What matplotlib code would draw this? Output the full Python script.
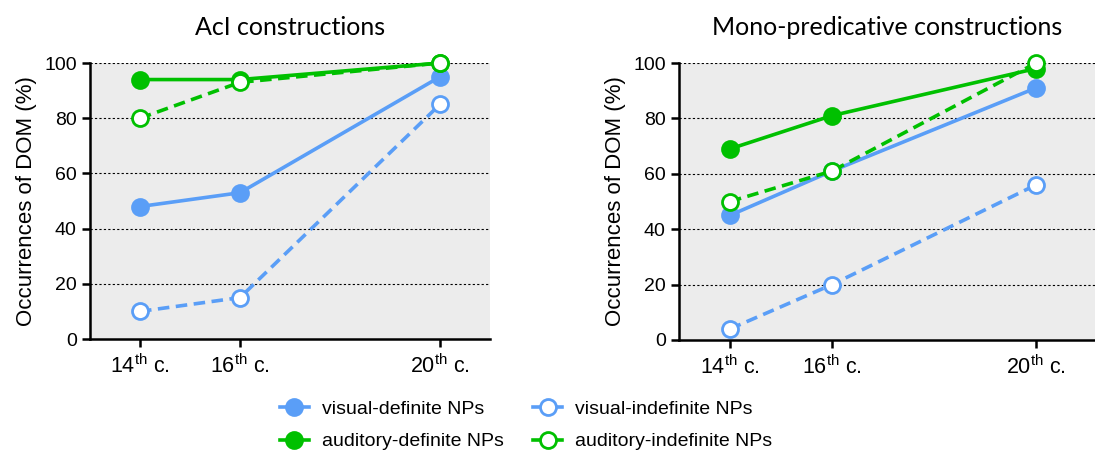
import matplotlib
matplotlib.use("Agg")
import matplotlib.pyplot as plt
from matplotlib.lines import Line2D

plt.rcParams['font.family'] = ['Liberation Sans', 'DejaVu Sans']
plt.rcParams['mathtext.fontset'] = 'custom'
plt.rcParams['mathtext.rm'] = 'Liberation Sans'
plt.rcParams['mathtext.it'] = 'Liberation Sans'

centuries = [14, 16, 20]
tick_labels = [r"14$^{\mathrm{th}}$ c.", r"16$^{\mathrm{th}}$ c.", r"20$^{\mathrm{th}}$ c."]
titles = ["AcI constructions", "Mono-predicative constructions"]
series_names = ["visual-definite NPs", "visual-indefinite NPs",
                "auditory-definite NPs", "auditory-indefinite NPs"]

aci_visual_def = [48, 53, 95]
aci_visual_indef = [10, 15, 85]
aci_auditory_def = [94, 94, 100]
aci_auditory_indef = [80, 93, 100]

mono_visual_def = [45, 61, 91]
mono_visual_indef = [4, 20, 56]
mono_auditory_def = [69, 81, 98]
mono_auditory_indef = [50, 61, 100]

BLUE = "#5a9ef7"
GREEN = "#00c000"

styles = [
    dict(color=BLUE, ls='-', mfc=BLUE),
    dict(color=BLUE, ls=(0, (3.2, 1.8)), mfc='white'),
    dict(color=GREEN, ls='-', mfc=GREEN),
    dict(color=GREEN, ls=(0, (3.2, 1.8)), mfc='white'),
]

fig = plt.figure(figsize=(10.95, 4.53), dpi=100)
W, H = 1095, 453
ax1 = fig.add_axes([90 / W, 1 - 339 / H, 400 / W, 276 / H])
ax2 = fig.add_axes([679 / W, 1 - 340 / H, 416 / W, 277 / H])

panels = [
    (ax1, [aci_visual_def, aci_visual_indef, aci_auditory_def, aci_auditory_indef], (13, 21)),
    (ax2, [mono_visual_def, mono_visual_indef, mono_auditory_def, mono_auditory_indef], (13, 13 + 416 / 51)),
]

for (ax, data, xl), title in zip(panels, titles):
    ax.set_facecolor("#ececec")
    for vals, st in zip(data, styles):
        ax.plot(centuries, vals, color=st['color'], ls=st['ls'], lw=2.6,
                marker='o', ms=11.5, mfc=st['mfc'], mec=st['color'], mew=2.0,
                clip_on=False, zorder=3)
    ax.set_xlim(*xl)
    ax.set_ylim(0, 100)
    ax.set_yticks([0, 20, 40, 60, 80, 100])
    ax.set_xticks(centuries)
    ax.set_xticklabels(tick_labels)
    for y in [20, 40, 60, 80, 100]:
        ax.axhline(y, color='black', lw=0.8, ls=(0, (2, 2)), zorder=1)
    for s in ['top', 'right']:
        ax.spines[s].set_visible(False)
    for s in ['left', 'bottom']:
        ax.spines[s].set_linewidth(1.8)
    ax.tick_params(axis='both', width=1.8, length=6, direction='out')
    ax.tick_params(axis='y', labelsize=14)
    ax.tick_params(axis='x', pad=5, labelsize=15.5)
    ax.set_ylabel("Occurrences of DOM (%)", fontsize=16, labelpad=5)
    ax.set_title(title, fontsize=18, family=['Lato', 'DejaVu Sans'], pad=20)

handles = [Line2D([0], [0], color=st['color'], ls='-', lw=2.6, marker='o', ms=11.5,
                  mfc=st['mfc'], mec=st['color'], mew=2.0) for st in styles]
order = [0, 2, 1, 3]
fig.legend([handles[i] for i in order], [series_names[i] for i in order],
           loc='center', bbox_to_anchor=(526 / W, 1 - 425.5 / H),
           ncol=2, frameon=False, fontsize=14, handlelength=1.5,
           columnspacing=1.5, labelspacing=0.75, handletextpad=0.67,
           borderpad=0.0, borderaxespad=0.0)

fig.savefig("out.png", dpi=100)
